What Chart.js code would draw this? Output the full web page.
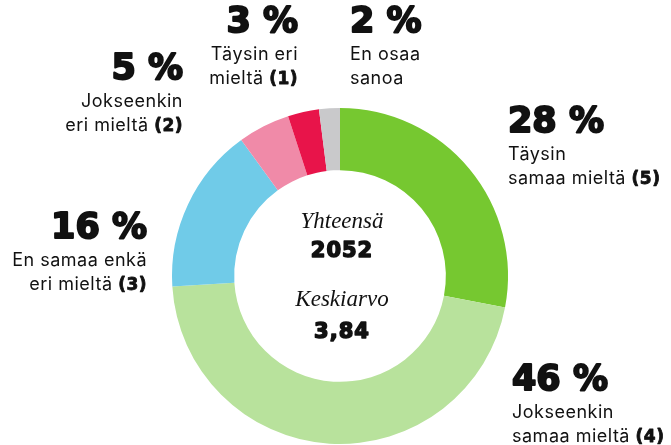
<!DOCTYPE html>
<html>
<head>
<meta charset="utf-8">
<script src="https://cdn.jsdelivr.net/npm/chart.js@4.4.1/dist/chart.umd.min.js"></script>
<style>
  html, body { margin: 0; padding: 0; background: #fff; }
  #wrap { width: 671px; height: 445px; }
</style>
</head>
<body>
<div id="wrap"><canvas id="chart" width="671" height="445"></canvas></div>
<script>
// vastausvaihtoehdot
const categories = [
  ['Täysin', 'samaa mieltä (5)'],
  ['Jokseenkin', 'samaa mieltä (4)'],
  ['En samaa enkä', 'eri mieltä (3)'],
  ['Jokseenkin', 'eri mieltä (2)'],
  ['Täysin eri', 'mieltä (1)'],
  ['En osaa', 'sanoa']
];
const shares = [28, 46, 16, 5, 3, 2];
const colors = ['#76c830', '#b8e29c', '#70cbe8', '#f08aa8', '#e8144a', '#c9c9cb'];
const totalCount = '2052';
const average = '3,84';

// tekstien paikat (x, y, tasaus)
const labelPos = [
  { x: 508, y: 108, align: 'left' },
  { x: 512, y: 366, align: 'left' },
  { x: 147, y: 214, align: 'right' },
  { x: 183, y: 55, align: 'right' },
  { x: 298, y: 8, align: 'right' },
  { x: 350, y: 8, align: 'left' }
];

const HEAVY = '"DejaVu Sans", "Noto Sans", sans-serif';
const PCT_FONT = 'bold 35px ' + HEAVY;
const TXT_FONT = '18px "Inter", "Noto Sans", sans-serif';
const PAREN_FONT = 'bold 17px ' + HEAVY;
const NUM_FONT = 'bold 21px ' + HEAVY;
const SERIF = 'italic 23px "Liberation Serif", "DejaVu Serif", serif';

// raskas teksti: täyttö + ääriviiva
function heavyText(ctx, text, x, y, lw) {
  ctx.lineWidth = lw;
  ctx.lineJoin = 'round';
  ctx.strokeText(text, x, y);
  ctx.fillText(text, x, y);
}

// rivi, jossa sulkeissa oleva numero lihavoidaan
function drawLine(ctx, text, x, y, align) {
  const m = text.match(/^(.*?)(\(\d\))$/);
  const parts = m ? [[m[1], TXT_FONT], [m[2], PAREN_FONT]] : [[text, TXT_FONT]];
  ctx.letterSpacing = '0.5px';
  let w = 0;
  parts.forEach(p => { ctx.font = p[1]; w += ctx.measureText(p[0]).width; });
  let cx = align === 'right' ? x - w : x;
  ctx.textAlign = 'left';
  parts.forEach(p => {
    ctx.font = p[1];
    if (p[1] === PAREN_FONT) heavyText(ctx, p[0], cx, y + 1, 0.8);
    else ctx.fillText(p[0], cx, y);
    cx += ctx.measureText(p[0]).width;
  });
  ctx.letterSpacing = '0px';
}

const labelsPlugin = {
  id: 'labels',
  afterDraw(chart) {
    const ctx = chart.ctx;
    ctx.save();
    ctx.fillStyle = '#111';
    ctx.strokeStyle = '#111';
    ctx.textBaseline = 'top';
    shares.forEach((v, i) => {
      const p = labelPos[i];
      ctx.font = PCT_FONT;
      ctx.textAlign = p.align;
      heavyText(ctx, v + ' %', p.x, p.y - 3, 2);
      categories[i].forEach((line, j) => {
        drawLine(ctx, line, p.x, p.y + 38 + j * 24, p.align);
      });
    });

    // keskiteksti
    const arc = chart.getDatasetMeta(0).data[0];
    const cx = arc.x + 2;
    const cy = arc.y;
    ctx.textAlign = 'center';
    ctx.textBaseline = 'alphabetic';
    ctx.font = SERIF;
    ctx.fillText('Yhteensä', cx, cy - 48);
    ctx.font = NUM_FONT;
    ctx.letterSpacing = '1px';
    heavyText(ctx, totalCount, cx, cy - 19, 1.5);
    ctx.letterSpacing = '0px';
    ctx.font = SERIF;
    ctx.fillText('Keskiarvo', cx, cy + 30);
    ctx.font = NUM_FONT;
    ctx.letterSpacing = '1px';
    heavyText(ctx, average, cx, cy + 62, 1.5);
    ctx.restore();
  }
};

new Chart(document.getElementById('chart'), {
  type: 'doughnut',
  data: {
    labels: categories.map(c => c.join(' ')),
    datasets: [{
      data: shares,
      backgroundColor: colors,
      borderWidth: 0
    }]
  },
  options: {
    responsive: false,
    animation: false,
    cutout: '63%',
    layout: { padding: { top: 108, bottom: 1, left: 172, right: 163 } },
    plugins: {
      legend: { display: false },
      tooltip: { enabled: false }
    }
  },
  plugins: [labelsPlugin]
});
</script>
</body>
</html>
